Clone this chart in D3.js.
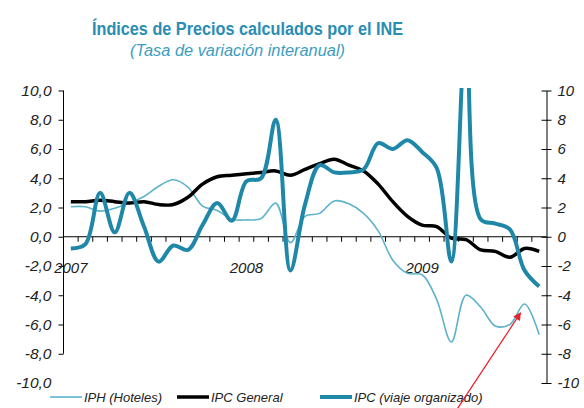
<!DOCTYPE html>
<html>
<head>
<meta charset="utf-8">
<script src="https://cdn.jsdelivr.net/npm/d3@7"></script>
<style>
  body { margin: 0; background: #fff; }
  text { font-family: "Liberation Sans", Arial, sans-serif; }
</style>
</head>
<body>
<svg id="chart" width="584" height="408"></svg>
<script>
// monthly categories, ene-07 .. sep-09
const months = ['ene-07','feb-07','mar-07','abr-07','may-07','jun-07','jul-07','ago-07','sep-07','oct-07','nov-07','dic-07',
  'ene-08','feb-08','mar-08','abr-08','may-08','jun-08','jul-08','ago-08','sep-08','oct-08','nov-08','dic-08',
  'ene-09','feb-09','mar-09','abr-09','may-09','jun-09','jul-09','ago-09','sep-09'];
const yearLabels = ['2007', '2008', '2009'];
const yearMonths = ['ene-07', 'ene-08', 'ene-09'];

const iph = [2.05, 2.05, 1.75, 1.95, 2.3, 2.75, 3.45, 3.9, 3.4, 2.1, 1.8, 1.2,
  1.15, 1.25, 2.3, -0.4, 1.4, 1.6, 2.45, 2.25, 1.6, 0.4, -1.6, -2.5,
  -2.6, -4.3, -7.2, -4.0, -4.8, -6.1, -6.0, -4.6, -6.7];
const ipcGeneral = [2.4, 2.4, 2.5, 2.4, 2.3, 2.4, 2.2, 2.2, 2.7, 3.6, 4.1, 4.2,
  4.3, 4.4, 4.5, 4.2, 4.6, 5.0, 5.3, 4.9, 4.5, 3.6, 2.4, 1.4,
  0.8, 0.7, -0.1, -0.2, -0.9, -1.0, -1.4, -0.8, -1.0];
const ipcViaje = [-0.8, -0.5, 3.0, 0.3, 3.0, 0.7, -1.7, -0.6, -0.9, 0.8, 2.3, 1.1,
  3.8, 4.0, 8.0, -2.3, 2.2, 4.9, 4.4, 4.4, 4.6, 6.4, 6.0, 6.6,
  5.8, 4.7, -1.7, 14.0, 1.2, 0.9, 0.5, -2.3, -3.4];

const leftTicks = [10, 8, 6, 4, 2, 0, -2, -4, -6, -8, -10];
const rightTicks = [10, 8, 6, 4, 2, 0, -2, -4, -6, -8, -10];

const teal = '#1f88a8';
const lightTeal = '#5db3cb';

const svg = d3.select('#chart');
const left = 63.5, right = 546.5;

const x = d3.scaleBand().domain(months).range([left, right]).paddingInner(0).paddingOuter(0);
const xc = d => x(d) + x.bandwidth() / 2;
const y = d3.scaleLinear().domain([-10, 10]).range([383, 90.5]);

// titles
svg.append('text')
  .attr('x', 92).attr('y', 35)
  .attr('textLength', 311).attr('lengthAdjust', 'spacingAndGlyphs')
  .attr('font-size', 18).attr('font-weight', 'bold')
  .attr('fill', '#2a8db3')
  .text('Índices de Precios calculados por el INE');
svg.append('text')
  .attr('x', 130).attr('y', 56)
  .attr('textLength', 215).attr('lengthAdjust', 'spacingAndGlyphs')
  .attr('font-size', 16).attr('font-style', 'italic')
  .attr('fill', '#3d9dc0')
  .text('(Tasa de variación interanual)');

const fmt = v => v.toFixed(1).replace('.', ',');

// left axis (line stops at -8)
const gl = svg.append('g')
  .attr('transform', 'translate(' + left + ',0)')
  .call(d3.axisLeft(y).tickValues(leftTicks).tickSize(5).tickSizeOuter(0).tickFormat(fmt));
gl.select('.domain').attr('d', 'M0,' + y(10) + 'V' + y(-8));
gl.selectAll('.tick').filter(d => d === -10).select('line').remove();
gl.selectAll('.tick text')
  .attr('x', -12).attr('font-size', 15.5).attr('font-style', 'italic').attr('fill', '#222')
  .attr('font-family', '"Liberation Sans", Arial, sans-serif');

// right axis
const gr = svg.append('g')
  .attr('transform', 'translate(' + right + ',0)')
  .call(d3.axisRight(y).tickValues(rightTicks).tickSize(5).tickSizeOuter(0).tickFormat(d => d3.format('d')(d).replace('−', '-')));
gr.selectAll('.tick line').attr('x1', -5);
gr.selectAll('.tick text')
  .attr('x', 11).attr('font-size', 15).attr('font-style', 'italic').attr('fill', '#222')
  .attr('font-family', '"Liberation Sans", Arial, sans-serif');

// zero line with monthly ticks
const gx = svg.append('g');
gx.append('line')
  .attr('x1', left).attr('x2', right).attr('y1', y(0)).attr('y2', y(0))
  .attr('stroke', '#000');
gx.selectAll('line.mtick').data(months.slice(1)).join('line')
  .attr('class', 'mtick')
  .attr('x1', d => x(d)).attr('x2', d => x(d))
  .attr('y1', y(0)).attr('y2', y(0) + 5)
  .attr('stroke', '#000');
gx.selectAll('text.year').data(yearLabels).join('text')
  .attr('class', 'year')
  .attr('x', (d, i) => xc(yearMonths[i]))
  .attr('y', y(0) + 36)
  .attr('text-anchor', 'middle')
  .attr('font-size', 15).attr('font-style', 'italic').attr('fill', '#222')
  .text(d => d);

// series
svg.append('defs').append('clipPath').attr('id', 'plot')
  .append('rect').attr('x', left).attr('y', 88).attr('width', right - left).attr('height', 320);

const line = d3.line()
  .x((d, i) => xc(months[i]))
  .y(d => y(d))
  .curve(d3.curveCatmullRom.alpha(0.5));

const series = [
  { name: 'IPH (Hoteles)', values: iph, color: lightTeal, width: 1.6 },
  { name: 'IPC General', values: ipcGeneral, color: '#000', width: 3.5 },
  { name: 'IPC (viaje organizado)', values: ipcViaje, color: teal, width: 4 }
];

svg.append('g').attr('clip-path', 'url(#plot)')
  .selectAll('path').data(series).join('path')
  .attr('d', d => line(d.values))
  .attr('fill', 'none')
  .attr('stroke', d => d.color)
  .attr('stroke-width', d => d.width)
  .attr('stroke-linejoin', 'round');

// legend
const legendX = [50, 177, 320];
const lg = svg.append('g').selectAll('g').data(series).join('g')
  .attr('transform', (d, i) => 'translate(' + legendX[i] + ',397)');
lg.append('line')
  .attr('x1', 0).attr('x2', 32).attr('y1', 0).attr('y2', 0)
  .attr('stroke', d => d.color).attr('stroke-width', d => d.width);
lg.append('text')
  .attr('x', 34).attr('y', 5)
  .attr('font-size', 13).attr('font-style', 'italic').attr('fill', '#222')
  .text(d => d.name);

// red arrow
svg.append('defs').append('marker')
  .attr('id', 'head').attr('viewBox', '0 0 10 10')
  .attr('refX', 9).attr('refY', 5)
  .attr('markerWidth', 10).attr('markerHeight', 8)
  .attr('markerUnits', 'userSpaceOnUse')
  .attr('orient', 'auto')
  .append('path').attr('d', 'M0,0L10,5L0,10Z').attr('fill', '#e8202a');
const tipX = xc('ago-09') - 4, tipY = y(-5.2);
svg.append('line')
  .attr('x1', tipX - 64).attr('y1', 410)
  .attr('x2', tipX).attr('y2', tipY)
  .attr('stroke', '#e8202a').attr('stroke-width', 1.3)
  .attr('marker-end', 'url(#head)');
</script>
</body>
</html>
